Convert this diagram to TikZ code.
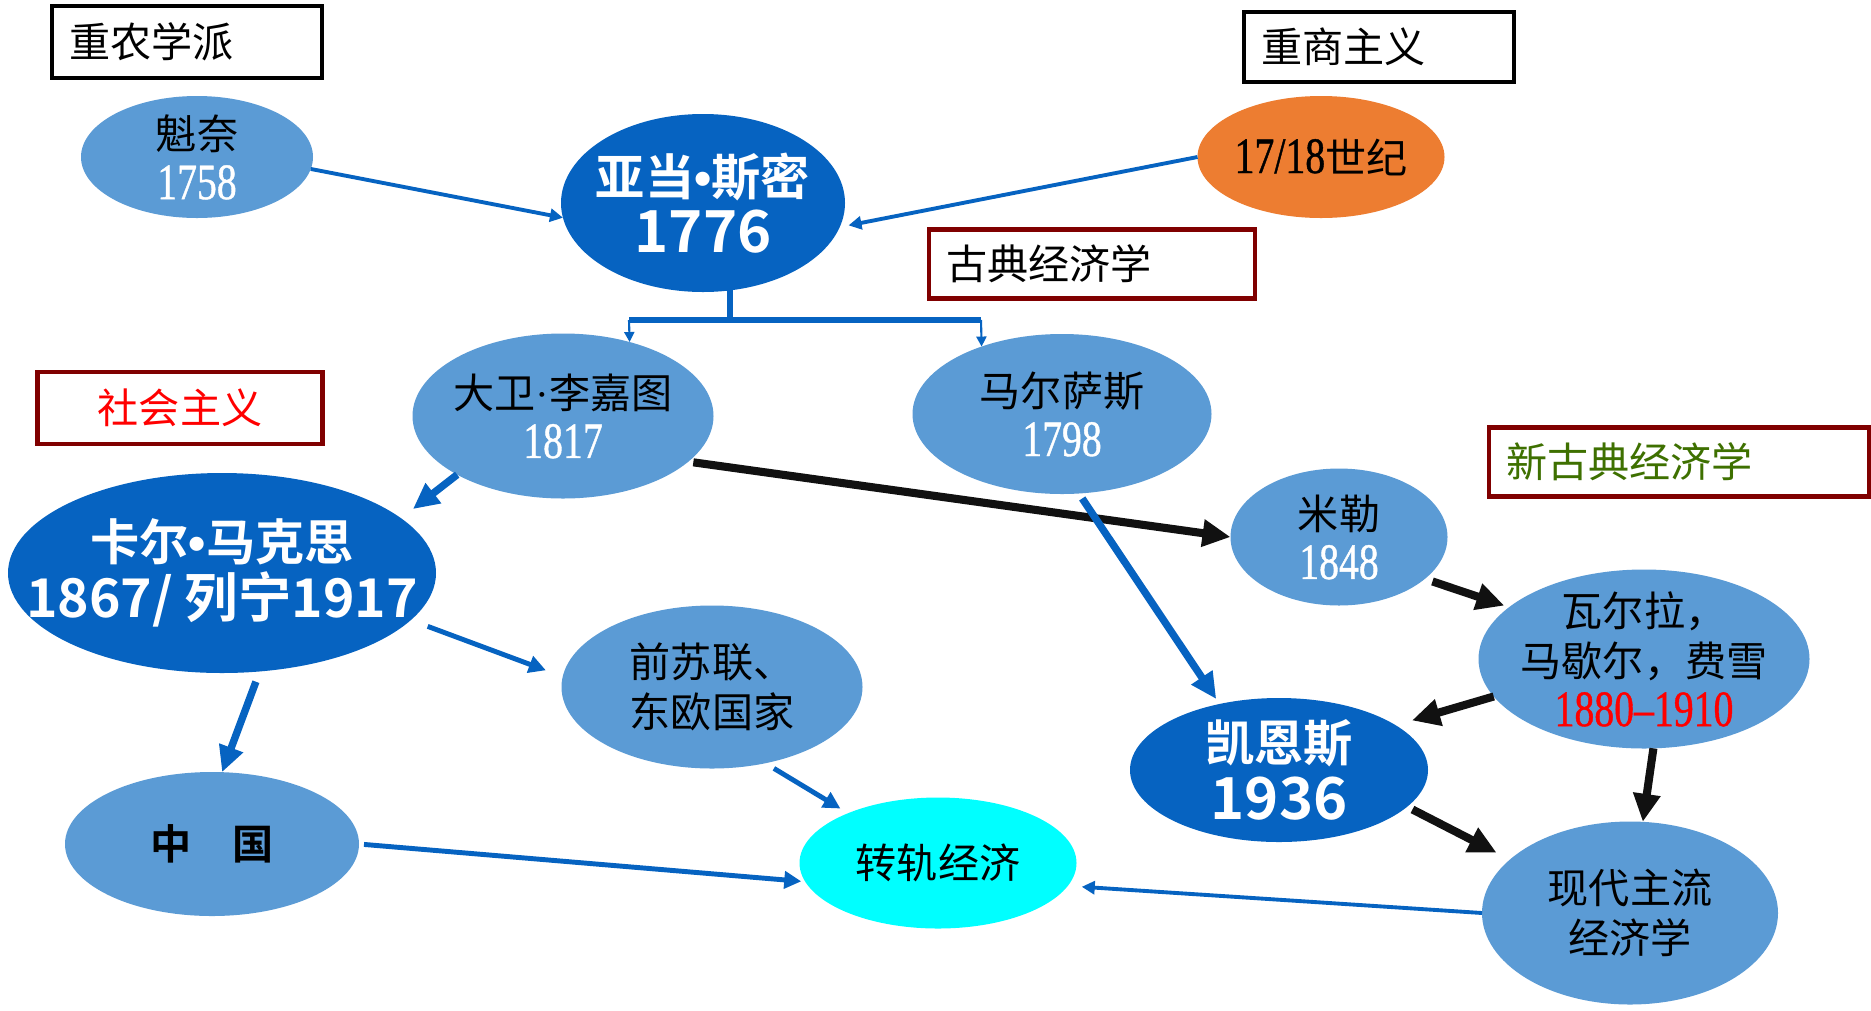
\documentclass[tikz,border=0pt]{standalone}
\usepackage{fontspec}
\usetikzlibrary{arrows.meta,shapes.geometric}

\newfontfamily\cjk{Noto Sans CJK SC}
\newfontfamily\cjkb{Noto Sans CJK SC Bold}
\newfontfamily\numfont[FakeStretch=0.78,FakeBold=0.8]{Liberation Serif}
\newfontfamily\dotfont{Liberation Sans Bold}
\newfontfamily\middotfont{Liberation Serif}
\definecolor{nodelight}{RGB}{91,155,213}
\definecolor{nodedark}{RGB}{6,99,193}
\definecolor{nodeorange}{RGB}{237,125,49}
\definecolor{nodecyan}{RGB}{0,255,255}
\definecolor{boxred}{RGB}{128,0,0}
\definecolor{boxgreen}{RGB}{62,112,0}
\definecolor{linkblue}{RGB}{6,99,193}
\definecolor{linkblack}{RGB}{17,17,17}
\newcommand\yr[1]{{\numfont\fontsize{14.5}{14.2}\selectfont #1}}
\newcommand\bigyr[1]{{\fontsize{16.5}{16.5}\selectfont #1}}
\newcommand\bdot{{\dotfont •}}
\newcommand\mdot{{\middotfont ·}}

\begin{document}
\begin{tikzpicture}[x=1cm,y=1cm]
\tikzset{
  oval/.style={ellipse,inner sep=-2cm,outer sep=0pt,align=center},
  lightoval/.style={oval,fill=nodelight,font=\cjk\fontsize{11.7}{14.2}\selectfont},
  darkoval/.style={oval,fill=nodedark,text=white,font=\cjkb\fontsize{14}{16.3}\selectfont},
  labelbox/.style={rectangle,draw,line width=1.3pt,inner xsep=0.17cm,inner ysep=0pt,align=left,font=\cjk\fontsize{11.7}{14}\selectfont},
  thinarrow/.style={-{Triangle[length=1.3mm,width=1.3mm]},line width=1.1pt,linkblue},
  midarrow/.style={-{Triangle[length=1.7mm,width=1.7mm]},line width=1.4pt,linkblue},
  bluearrow/.style={-{Triangle[length=2.6mm,width=2.4mm]},line width=2.1pt,linkblue},
  blackarrow/.style={-{Triangle[length=2.8mm,width=2.6mm]},line width=2.3pt,linkblack},
  forkbar/.style={line width=1.7pt,linkblue},
  forktip/.style={-{Triangle[length=1mm,width=1mm]},line width=0.6pt,linkblue}
}
\useasboundingbox[fill=white] (0,0) rectangle (18.71,-10.10);

\node[labelbox,draw=black,text width=2.36cm,minimum height=0.72cm] (b_physio) at (1.87,-0.42) {重农学派};
\node[labelbox,draw=black,text width=2.36cm,minimum height=0.70cm] (b_merc) at (13.79,-0.47) {重商主义};
\node[labelbox,draw=boxred,text width=2.92cm,minimum height=0.69cm] (b_classic) at (10.92,-2.64) {古典经济学};
\node[labelbox,draw=boxred,text=red,align=center,text width=2.51cm,minimum height=0.72cm] (b_social) at (1.80,-4.08) {社会主义};
\node[labelbox,draw=boxred,text=boxgreen,text width=3.46cm,minimum height=0.69cm] (b_neo) at (16.79,-4.62) {新古典经济学};

\node[lightoval,minimum width=2.32cm,minimum height=1.22cm] (n_quesnay) at (1.97,-1.57) {魁奈\\\textcolor{white}{\yr{1758}}};
\node[darkoval,minimum width=2.84cm,minimum height=1.78cm] (n_smith) at (7.03,-2.03) {亚当\bdot 斯密\\\bigyr{1776}};
\node[lightoval,fill=nodeorange,minimum width=2.47cm,minimum height=1.22cm] (n_merc) at (13.21,-1.57) {\yr{17/18}世纪};
\node[lightoval,minimum width=3.01cm,minimum height=1.65cm] (n_ricardo) at (5.63,-4.16) {大卫\mdot 李嘉图\\\textcolor{white}{\yr{1817}}};
\node[lightoval,minimum width=2.99cm,minimum height=1.60cm] (n_malthus) at (10.62,-4.14) {马尔萨斯\\\textcolor{white}{\yr{1798}}};
\node[darkoval,minimum width=4.28cm,minimum height=2.00cm] (n_marx) at (2.22,-5.73) {卡尔\bdot 马克思\\{\fontsize{15.2}{15.2}\selectfont 1867/ 列宁1917}};
\node[lightoval,minimum width=3.01cm,minimum height=1.63cm] (n_soviet) at (7.12,-6.87) {前苏联、\\东欧国家};
\node[lightoval,font=\cjkb\fontsize{11.7}{14}\selectfont,minimum width=2.94cm,minimum height=1.44cm] (n_china) at (2.12,-8.44) {中\quad 国};
\node[lightoval,fill=nodecyan,minimum width=2.77cm,minimum height=1.31cm] (n_transit) at (9.38,-8.63) {转轨经济};
\node[lightoval,minimum width=2.17cm,minimum height=1.37cm] (n_miller) at (13.39,-5.37) {米勒\\\textcolor{white}{\yr{1848}}};
\node[lightoval,minimum width=3.31cm,minimum height=1.79cm] (n_walras) at (16.44,-6.59) {瓦尔拉，\\马歇尔，费雪\\\textcolor{red}{\yr{1880–1910}}};
\node[darkoval,minimum width=2.98cm,minimum height=1.44cm] (n_keynes) at (12.79,-7.70) {凯恩斯\\\bigyr{1936}};
\node[lightoval,minimum width=2.96cm,minimum height=1.83cm] (n_modern) at (16.30,-9.13) {现代主流\\经济学};

\coordinate (fork_l) at (6.29,-3.20);
\coordinate (fork_r) at (9.81,-3.20);
\draw[forkbar] (n_smith.-73) -- (n_smith.-73 |- fork_l);
\draw[forkbar] (fork_l) -- (fork_r);
\draw[forktip] (fork_l) -- (n_ricardo.48);
\draw[forktip] (fork_r) -- (n_malthus.140);

\draw[thinarrow] (n_quesnay.-6) -- (n_smith.186);
\draw[thinarrow,shorten >=0.9mm] (n_merc.180) -- (n_smith.-10);
\draw[bluearrow,shorten >=1.5mm] (n_ricardo.209) -- (n_marx.17);
\draw[blackarrow,shorten <=0.5mm] (n_ricardo.-20) -- (n_miller.180);
\draw[bluearrow,shorten <=0.6mm,shorten >=0.6mm] (n_malthus.-78) -- (n_keynes.132);
\draw[blackarrow,shorten <=0.8mm,shorten >=0.5mm] (n_miller.-26) -- (n_walras.159);
\draw[blackarrow,shorten >=1.7mm] (n_walras.194) -- (n_keynes.21);
\draw[blackarrow] (n_walras.-84) -- (n_modern.82);
\draw[blackarrow,shorten <=0.6mm,shorten >=1.5mm] (n_keynes.-16) -- (n_modern.156);
\draw[midarrow,shorten <=1.8mm,shorten >=1.8mm] (n_marx.-14) -- (n_soviet.176);
\draw[bluearrow,shorten <=1.1mm] (n_marx.-69) -- (n_china.82);
\draw[midarrow,shorten <=1mm,shorten >=0.9mm] (n_soviet.-55) -- (n_transit.151);
\draw[midarrow,shorten <=0.5mm,shorten >=0.4mm] (n_china.0) -- (n_transit.188);
\draw[thinarrow,shorten >=1.4mm] (n_modern.180) -- (n_transit.-10);
\end{tikzpicture}
\end{document}
